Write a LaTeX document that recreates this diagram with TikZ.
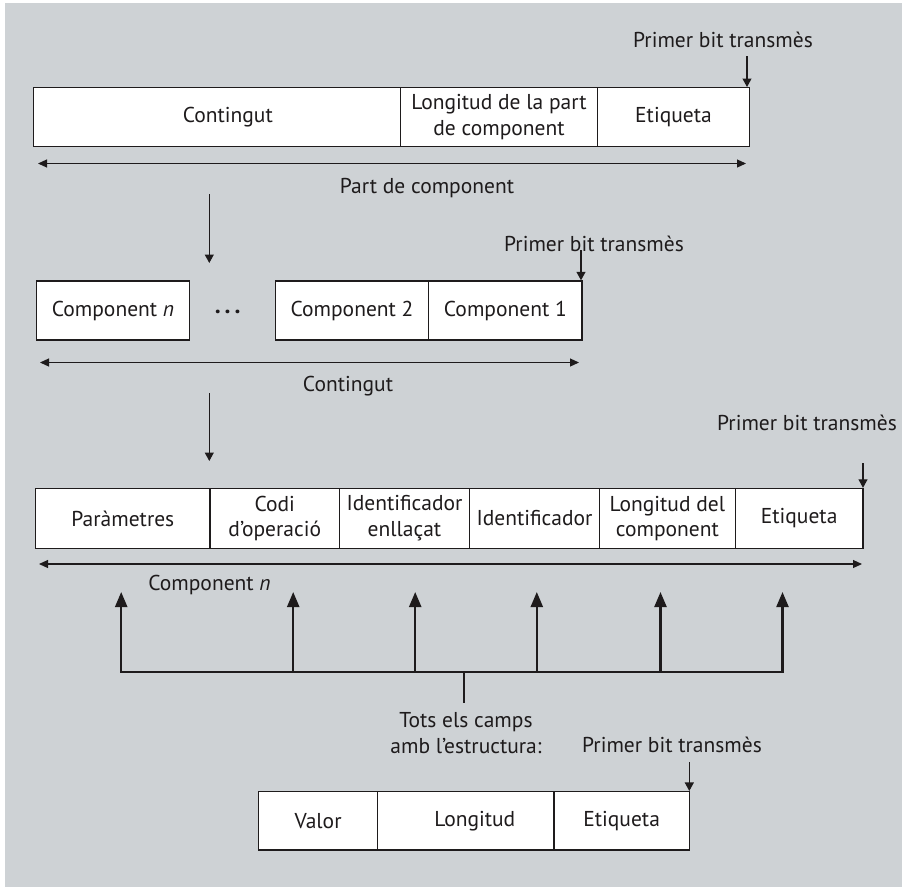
\documentclass[tikz,border=0pt]{standalone}
\usepackage{fontspec}
\setmainfont{PT Sans}
\usetikzlibrary{arrows.meta,calc}
\definecolor{bg}{RGB}{206,210,213}
\definecolor{ink}{RGB}{30,27,28}
\begin{document}
\begin{tikzpicture}[x=1pt,y=-1pt,
  cell/.style={draw=ink, fill=white, line width=1.4pt, inner sep=0pt, align=center,
    font=\fontsize{21.5}{25.7}\selectfont, text=ink},
  lbl/.style={inner sep=0pt, align=center, font=\fontsize{21.5}{26}\selectfont, text=ink},
  thinarrow/.style={draw=ink, line width=1.1pt, -{Triangle[length=8.5pt,width=9pt]}},
  botharrow/.style={draw=ink, line width=1.1pt, {Triangle[length=9pt,width=8pt]}-{Triangle[length=9pt,width=8pt]}},
  thickarrow/.style={draw=ink, line width=2.3pt, -{Triangle[length=15pt,width=12pt]}},
  busline/.style={draw=ink, line width=2.3pt, line cap=rect}]
\useasboundingbox (0,0) rectangle (902,887);
\fill[white] (0,0) rectangle (902,887);
\fill[bg] (5,3) rectangle (902,887);

% Row 1
\node[cell, minimum width=367pt, minimum height=59pt] (r1a) at (216.8,117.2) {\hspace*{22pt}Contingut};
\node[cell, minimum width=197.4pt, minimum height=59pt] (r1b) at (499,117.2) {Longitud de la part\\de component};
\node[cell, minimum width=151.6pt, minimum height=59pt] (r1c) at (673.5,117.2) {Etiqueta};
\node[lbl] (pb1) at (723,40) {Primer bit transmès};
\coordinate (pa1) at (747,56);
\draw[thinarrow] (pa1) -- (pa1 |- r1c.north);
\coordinate (d1l) at (38,163.5);
\coordinate (d1r) at (746,163.5);
\draw[botharrow] (d1l) -- (d1r);
\node[lbl] (l1) at (427,187.7) {Part de component};
\coordinate (v1s) at (209.3,194);
\coordinate (v1e) at (209.3,263);
\draw[thinarrow] (v1s) -- (v1e);

% Row 2
\node[cell, minimum width=153.4pt, minimum height=59pt] (r2n) at (113,310.5) {Component \textit{n}};
\node[lbl, font=\fontsize{24}{25}\selectfont\bfseries] (dots) at (227.7,312) {.\hspace{4pt}.\hspace{4pt}.};
\node[cell, minimum width=153.4pt, minimum height=59pt] (r2b) at (352,310.5) {Component 2};
\node[cell, minimum width=153.3pt, minimum height=59pt] (r2a) at (505.35,310.5) {Component 1};
\node[lbl] (pb2) at (594,244) {Primer bit transmès};
\coordinate (pa2) at (581,250);
\draw[thinarrow] (pa2) -- (pa2 |- r2a.north);
\coordinate (d2l) at (40,362.5);
\coordinate (d2r) at (579,362.5);
\draw[botharrow] (d2l) -- (d2r);
\node[lbl] (l2) at (348,386) {Contingut};
\coordinate (v2s) at (209.3,393.3);
\coordinate (v2e) at (209.3,461);
\draw[thinarrow] (v2s) -- (v2e);

% Row 3
\node[cell, minimum width=174.3pt, minimum height=59.8pt] (r3a) at (122.85,518.4) {Paràmetres};
\node[cell, minimum width=129.5pt, minimum height=59.8pt] (r3b) at (274.75,518.4) {Codi\\d’operació};
\node[cell, minimum width=130pt, minimum height=59.8pt] (r3c) at (404.5,518.4) {Identificador\\enllaçat};
\node[cell, minimum width=130pt, minimum height=59.8pt] (r3d) at (534.5,518.4) {Identificador};
\node[cell, minimum width=135.8pt, minimum height=59.8pt] (r3e) at (667.4,518.4) {Longitud del\\component};
\node[cell, minimum width=127.7pt, minimum height=59.8pt] (r3f) at (799.15,518.4) {Etiqueta};
\node[lbl] (pb3) at (807,423) {Primer bit transmès};
\coordinate (pa3) at (863,463);
\draw[thinarrow] (pa3) -- (pa3 |- r3f.north);
\coordinate (d3l) at (39,564);
\coordinate (d3r) at (862,564);
\draw[botharrow] (d3l) -- (d3r);
\node[lbl] (l3) at (209.5,584.5) {Component \textit{n}};

% Bus with up arrows
\coordinate (b1) at (121.2,671.7);
\coordinate (b2) at (293.2,671.7);
\coordinate (b3) at (415.2,671.7);
\coordinate (b4) at (536.8,671.7);
\coordinate (b5) at (660.5,671.7);
\coordinate (b6) at (782.5,671.7);
\coordinate (bm) at (463.8,671.7);
\coordinate (bs) at (463.8,701.7);
\foreach \i in {1,...,6}{
  \coordinate (u\i) at ($(b\i)+(0,-79.7)$);
}
\draw[busline] (b1) -- (b6);
\draw[busline] (bm) -- (bs);
\foreach \i in {1,...,6}{
  \draw[thickarrow] (b\i) -- (u\i);
}
\node[lbl] (l4) at (466,733) {Tots els camps\\amb l’estructura:};

% Row 4
\node[cell, minimum width=119.2pt, minimum height=58.3pt] (r4a) at (318.1,820.8) {Valor};
\node[cell, minimum width=176.3pt, minimum height=58.3pt] (r4b) at (465.85,820.8) {\hspace*{18pt}Longitud};
\node[cell, minimum width=135.3pt, minimum height=58.3pt] (r4c) at (621.65,820.8) {Etiqueta};
\node[lbl] (pb4) at (672,745) {Primer bit transmès};
\coordinate (pa4) at (689.3,762);
\draw[thinarrow] (pa4) -- (pa4 |- r4c.north);
\end{tikzpicture}
\end{document}
